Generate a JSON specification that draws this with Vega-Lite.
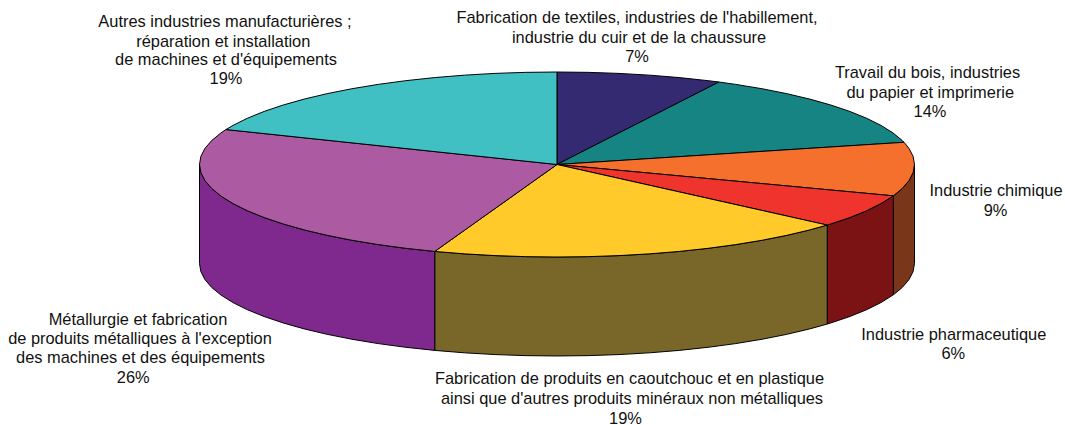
{"$schema":"https://vega.github.io/schema/vega-lite/v6.json","width":1065,"height":425,"padding":0,"autosize":"none","background":"white","config":{"view":{"stroke":null}},
"datasets":{
"top":[
{"slice":"textiles","i":0,"x":0,"y":0},{"slice":"textiles","i":1,"x":0,"y":1},{"slice":"textiles","i":2,"x":0.0872,"y":0.9962},{"slice":"textiles","i":3,"x":0.1736,"y":0.9848},{"slice":"textiles","i":4,"x":0.2588,"y":0.9659},{"slice":"textiles","i":5,"x":0.342,"y":0.9397},{"slice":"textiles","i":6,"x":0.4226,"y":0.9063},{"slice":"textiles","i":7,"x":0.453,"y":0.8915},{"slice":"textiles","i":8,"x":0,"y":0},
{"slice":"bois","i":0,"x":0,"y":0},{"slice":"bois","i":1,"x":0.453,"y":0.8915},{"slice":"bois","i":2,"x":0.5,"y":0.866},{"slice":"bois","i":3,"x":0.5736,"y":0.8192},{"slice":"bois","i":4,"x":0.6428,"y":0.766},{"slice":"bois","i":5,"x":0.7071,"y":0.7071},{"slice":"bois","i":6,"x":0.766,"y":0.6428},{"slice":"bois","i":7,"x":0.8192,"y":0.5736},{"slice":"bois","i":8,"x":0.866,"y":0.5},{"slice":"bois","i":9,"x":0.9063,"y":0.4226},{"slice":"bois","i":10,"x":0.9397,"y":0.342},{"slice":"bois","i":11,"x":0.9659,"y":0.2588},{"slice":"bois","i":12,"x":0.9707,"y":0.2402},{"slice":"bois","i":13,"x":0,"y":0},
{"slice":"chimique","i":0,"x":0,"y":0},{"slice":"chimique","i":1,"x":0.9707,"y":0.2402},{"slice":"chimique","i":2,"x":0.9848,"y":0.1736},{"slice":"chimique","i":3,"x":0.9962,"y":0.0872},{"slice":"chimique","i":4,"x":1,"y":0},{"slice":"chimique","i":5,"x":0.9962,"y":-0.0872},{"slice":"chimique","i":6,"x":0.9848,"y":-0.1736},{"slice":"chimique","i":7,"x":0.9659,"y":-0.2588},{"slice":"chimique","i":8,"x":0.9409,"y":-0.3387},{"slice":"chimique","i":9,"x":0,"y":0},
{"slice":"pharma","i":0,"x":0,"y":0},{"slice":"pharma","i":1,"x":0.9409,"y":-0.3387},{"slice":"pharma","i":2,"x":0.9063,"y":-0.4226},{"slice":"pharma","i":3,"x":0.866,"y":-0.5},{"slice":"pharma","i":4,"x":0.8192,"y":-0.5736},{"slice":"pharma","i":5,"x":0.766,"y":-0.6428},{"slice":"pharma","i":6,"x":0.7559,"y":-0.6547},{"slice":"pharma","i":7,"x":0,"y":0},
{"slice":"caoutchouc","i":0,"x":0,"y":0},{"slice":"caoutchouc","i":1,"x":0.7559,"y":-0.6547},{"slice":"caoutchouc","i":2,"x":0.7071,"y":-0.7071},{"slice":"caoutchouc","i":3,"x":0.6428,"y":-0.766},{"slice":"caoutchouc","i":4,"x":0.5736,"y":-0.8192},{"slice":"caoutchouc","i":5,"x":0.5,"y":-0.866},{"slice":"caoutchouc","i":6,"x":0.4226,"y":-0.9063},{"slice":"caoutchouc","i":7,"x":0.342,"y":-0.9397},{"slice":"caoutchouc","i":8,"x":0.2588,"y":-0.9659},{"slice":"caoutchouc","i":9,"x":0.1736,"y":-0.9848},{"slice":"caoutchouc","i":10,"x":0.0872,"y":-0.9962},{"slice":"caoutchouc","i":11,"x":0,"y":-1},{"slice":"caoutchouc","i":12,"x":-0.0872,"y":-0.9962},{"slice":"caoutchouc","i":13,"x":-0.1736,"y":-0.9848},{"slice":"caoutchouc","i":14,"x":-0.2588,"y":-0.9659},{"slice":"caoutchouc","i":15,"x":-0.342,"y":-0.9397},{"slice":"caoutchouc","i":16,"x":0,"y":0},
{"slice":"metallurgie","i":0,"x":0,"y":0},{"slice":"metallurgie","i":1,"x":-0.342,"y":-0.9397},{"slice":"metallurgie","i":2,"x":-0.4226,"y":-0.9063},{"slice":"metallurgie","i":3,"x":-0.5,"y":-0.866},{"slice":"metallurgie","i":4,"x":-0.5736,"y":-0.8192},{"slice":"metallurgie","i":5,"x":-0.6428,"y":-0.766},{"slice":"metallurgie","i":6,"x":-0.7071,"y":-0.7071},{"slice":"metallurgie","i":7,"x":-0.766,"y":-0.6428},{"slice":"metallurgie","i":8,"x":-0.8192,"y":-0.5736},{"slice":"metallurgie","i":9,"x":-0.866,"y":-0.5},{"slice":"metallurgie","i":10,"x":-0.9063,"y":-0.4226},{"slice":"metallurgie","i":11,"x":-0.9397,"y":-0.342},{"slice":"metallurgie","i":12,"x":-0.9659,"y":-0.2588},{"slice":"metallurgie","i":13,"x":-0.9848,"y":-0.1736},{"slice":"metallurgie","i":14,"x":-0.9962,"y":-0.0872},{"slice":"metallurgie","i":15,"x":-1,"y":0},{"slice":"metallurgie","i":16,"x":-0.9962,"y":0.0872},{"slice":"metallurgie","i":17,"x":-0.9848,"y":0.1736},{"slice":"metallurgie","i":18,"x":-0.9659,"y":0.2588},{"slice":"metallurgie","i":19,"x":-0.9397,"y":0.342},{"slice":"metallurgie","i":20,"x":-0.9259,"y":0.3778},{"slice":"metallurgie","i":21,"x":0,"y":0},
{"slice":"autres","i":0,"x":0,"y":0},{"slice":"autres","i":1,"x":-0.9259,"y":0.3778},{"slice":"autres","i":2,"x":-0.9063,"y":0.4226},{"slice":"autres","i":3,"x":-0.866,"y":0.5},{"slice":"autres","i":4,"x":-0.8192,"y":0.5736},{"slice":"autres","i":5,"x":-0.766,"y":0.6428},{"slice":"autres","i":6,"x":-0.7071,"y":0.7071},{"slice":"autres","i":7,"x":-0.6428,"y":0.766},{"slice":"autres","i":8,"x":-0.5736,"y":0.8192},{"slice":"autres","i":9,"x":-0.5,"y":0.866},{"slice":"autres","i":10,"x":-0.4226,"y":0.9063},{"slice":"autres","i":11,"x":-0.342,"y":0.9397},{"slice":"autres","i":12,"x":-0.2588,"y":0.9659},{"slice":"autres","i":13,"x":-0.1736,"y":0.9848},{"slice":"autres","i":14,"x":-0.0872,"y":0.9962},{"slice":"autres","i":15,"x":0,"y":1},{"slice":"autres","i":16,"x":0,"y":0}
],
"side":[
{"slice":"chimique","i":0,"x":1,"y":0},{"slice":"chimique","i":1,"x":0.9962,"y":-0.0872},{"slice":"chimique","i":2,"x":0.9848,"y":-0.1736},{"slice":"chimique","i":3,"x":0.9659,"y":-0.2588},{"slice":"chimique","i":4,"x":0.9409,"y":-0.3387},{"slice":"chimique","i":5,"x":0.9409,"y":-1.4087},{"slice":"chimique","i":6,"x":0.9659,"y":-1.3288},{"slice":"chimique","i":7,"x":0.9848,"y":-1.2436},{"slice":"chimique","i":8,"x":0.9962,"y":-1.1572},{"slice":"chimique","i":9,"x":1,"y":-1.07},{"slice":"chimique","i":10,"x":1,"y":0},
{"slice":"pharma","i":0,"x":0.9409,"y":-0.3387},{"slice":"pharma","i":1,"x":0.9063,"y":-0.4226},{"slice":"pharma","i":2,"x":0.866,"y":-0.5},{"slice":"pharma","i":3,"x":0.8192,"y":-0.5736},{"slice":"pharma","i":4,"x":0.766,"y":-0.6428},{"slice":"pharma","i":5,"x":0.7559,"y":-0.6547},{"slice":"pharma","i":6,"x":0.7559,"y":-1.7247},{"slice":"pharma","i":7,"x":0.766,"y":-1.7128},{"slice":"pharma","i":8,"x":0.8192,"y":-1.6436},{"slice":"pharma","i":9,"x":0.866,"y":-1.57},{"slice":"pharma","i":10,"x":0.9063,"y":-1.4926},{"slice":"pharma","i":11,"x":0.9409,"y":-1.4087},{"slice":"pharma","i":12,"x":0.9409,"y":-0.3387},
{"slice":"caoutchouc","i":0,"x":0.7559,"y":-0.6547},{"slice":"caoutchouc","i":1,"x":0.7071,"y":-0.7071},{"slice":"caoutchouc","i":2,"x":0.6428,"y":-0.766},{"slice":"caoutchouc","i":3,"x":0.5736,"y":-0.8192},{"slice":"caoutchouc","i":4,"x":0.5,"y":-0.866},{"slice":"caoutchouc","i":5,"x":0.4226,"y":-0.9063},{"slice":"caoutchouc","i":6,"x":0.342,"y":-0.9397},{"slice":"caoutchouc","i":7,"x":0.2588,"y":-0.9659},{"slice":"caoutchouc","i":8,"x":0.1736,"y":-0.9848},{"slice":"caoutchouc","i":9,"x":0.0872,"y":-0.9962},{"slice":"caoutchouc","i":10,"x":0,"y":-1},{"slice":"caoutchouc","i":11,"x":-0.0872,"y":-0.9962},{"slice":"caoutchouc","i":12,"x":-0.1736,"y":-0.9848},{"slice":"caoutchouc","i":13,"x":-0.2588,"y":-0.9659},{"slice":"caoutchouc","i":14,"x":-0.342,"y":-0.9397},{"slice":"caoutchouc","i":15,"x":-0.342,"y":-2.0097},{"slice":"caoutchouc","i":16,"x":-0.2588,"y":-2.0359},{"slice":"caoutchouc","i":17,"x":-0.1736,"y":-2.0548},{"slice":"caoutchouc","i":18,"x":-0.0872,"y":-2.0662},{"slice":"caoutchouc","i":19,"x":0,"y":-2.07},{"slice":"caoutchouc","i":20,"x":0.0872,"y":-2.0662},{"slice":"caoutchouc","i":21,"x":0.1736,"y":-2.0548},{"slice":"caoutchouc","i":22,"x":0.2588,"y":-2.0359},{"slice":"caoutchouc","i":23,"x":0.342,"y":-2.0097},{"slice":"caoutchouc","i":24,"x":0.4226,"y":-1.9763},{"slice":"caoutchouc","i":25,"x":0.5,"y":-1.936},{"slice":"caoutchouc","i":26,"x":0.5736,"y":-1.8892},{"slice":"caoutchouc","i":27,"x":0.6428,"y":-1.836},{"slice":"caoutchouc","i":28,"x":0.7071,"y":-1.7771},{"slice":"caoutchouc","i":29,"x":0.7559,"y":-1.7247},{"slice":"caoutchouc","i":30,"x":0.7559,"y":-0.6547},
{"slice":"metallurgie","i":0,"x":-0.342,"y":-0.9397},{"slice":"metallurgie","i":1,"x":-0.4226,"y":-0.9063},{"slice":"metallurgie","i":2,"x":-0.5,"y":-0.866},{"slice":"metallurgie","i":3,"x":-0.5736,"y":-0.8192},{"slice":"metallurgie","i":4,"x":-0.6428,"y":-0.766},{"slice":"metallurgie","i":5,"x":-0.7071,"y":-0.7071},{"slice":"metallurgie","i":6,"x":-0.766,"y":-0.6428},{"slice":"metallurgie","i":7,"x":-0.8192,"y":-0.5736},{"slice":"metallurgie","i":8,"x":-0.866,"y":-0.5},{"slice":"metallurgie","i":9,"x":-0.9063,"y":-0.4226},{"slice":"metallurgie","i":10,"x":-0.9397,"y":-0.342},{"slice":"metallurgie","i":11,"x":-0.9659,"y":-0.2588},{"slice":"metallurgie","i":12,"x":-0.9848,"y":-0.1736},{"slice":"metallurgie","i":13,"x":-0.9962,"y":-0.0872},{"slice":"metallurgie","i":14,"x":-1,"y":0},{"slice":"metallurgie","i":15,"x":-1,"y":-1.07},{"slice":"metallurgie","i":16,"x":-0.9962,"y":-1.1572},{"slice":"metallurgie","i":17,"x":-0.9848,"y":-1.2436},{"slice":"metallurgie","i":18,"x":-0.9659,"y":-1.3288},{"slice":"metallurgie","i":19,"x":-0.9397,"y":-1.412},{"slice":"metallurgie","i":20,"x":-0.9063,"y":-1.4926},{"slice":"metallurgie","i":21,"x":-0.866,"y":-1.57},{"slice":"metallurgie","i":22,"x":-0.8192,"y":-1.6436},{"slice":"metallurgie","i":23,"x":-0.766,"y":-1.7128},{"slice":"metallurgie","i":24,"x":-0.7071,"y":-1.7771},{"slice":"metallurgie","i":25,"x":-0.6428,"y":-1.836},{"slice":"metallurgie","i":26,"x":-0.5736,"y":-1.8892},{"slice":"metallurgie","i":27,"x":-0.5,"y":-1.936},{"slice":"metallurgie","i":28,"x":-0.4226,"y":-1.9763},{"slice":"metallurgie","i":29,"x":-0.342,"y":-2.0097},{"slice":"metallurgie","i":30,"x":-0.342,"y":-0.9397}
],
"labels":[
{"label":"Autres industries manufacturières ;","x":-0.9287,"y":1.4897},
{"label":"réparation et installation","x":-0.9334,"y":1.2735},
{"label":"de machines et d'équipements","x":-0.9259,"y":1.0757},
{"label":"19%","x":-0.9259,"y":0.867},
{"label":"Fabrication de textiles, industries de l'habillement,","x":0.2238,"y":1.533},
{"label":"industrie du cuir et de la chaussure","x":0.2294,"y":1.3168},
{"label":"7%","x":0.2238,"y":1.1081},
{"label":"Travail du bois, industries","x":1.0364,"y":0.9384},
{"label":"du papier et imprimerie","x":1.0442,"y":0.7222},
{"label":"14%","x":1.0434,"y":0.5168},
{"label":"Industrie chimique","x":1.228,"y":-0.3405},
{"label":"9%","x":1.2266,"y":-0.5535},
{"label":"Industrie pharmaceutique","x":1.1099,"y":-1.8973},
{"label":"6%","x":1.1085,"y":-2.1059},
{"label":"Fabrication de produits en caoutchouc et en plastique","x":0.2028,"y":-2.373},
{"label":"ainsi que d'autres produits minéraux non métalliques","x":0.2098,"y":-2.5892},
{"label":"19%","x":0.1916,"y":-2.8},
{"label":"Métallurgie et fabrication","x":-1.172,"y":-1.7351},
{"label":"de produits métalliques à l'exception","x":-1.1664,"y":-1.9438},
{"label":"des machines et des équipements","x":-1.165,"y":-2.1492},
{"label":"26%","x":-1.1852,"y":-2.3654}
]},
"layer":[
{"data":{"name":"side"},"mark":{"type":"line","filled":true,"interpolate":"linear","strokeWidth":1,"strokeJoin":"round","clip":false},
"encoding":{"x":{"field":"x","type":"quantitative","axis":null,"scale":{"domain":[-1.558,1.421],"nice":false,"zero":false}},"y":{"field":"y","type":"quantitative","axis":null,"scale":{"domain":[-2.8162,1.7784],"nice":false,"zero":false}},"order":{"field":"i","type":"quantitative"},"fill":{"field":"slice","type":"nominal","legend":null,"scale":{"domain":["chimique","pharma","caoutchouc","metallurgie"],"range":["#7A3618","#7B1214","#786729","#7F298E"]}},"stroke":{"value":"#000000"}}},
{"data":{"name":"top"},"mark":{"type":"line","filled":true,"interpolate":"linear","strokeWidth":1,"strokeJoin":"round","clip":false},
"encoding":{"x":{"field":"x","type":"quantitative","axis":null},"y":{"field":"y","type":"quantitative","axis":null},"order":{"field":"i","type":"quantitative"},"fill":{"field":"slice","type":"nominal","legend":null,"scale":{"domain":["textiles","bois","chimique","pharma","caoutchouc","metallurgie","autres"],"range":["#332A71","#178484","#F56F2D","#EE342D","#FFCA2A","#AC5AA1","#41C0C4"]}},"stroke":{"value":"#000000"}}},
{"data":{"name":"labels"},"mark":{"type":"text","font":"Liberation Sans","fontSize":16.4,"align":"center","baseline":"alphabetic","color":"#111111"},
"encoding":{"x":{"field":"x","type":"quantitative","axis":null},"y":{"field":"y","type":"quantitative","axis":null},"text":{"field":"label","type":"nominal"}}}
],
"resolve":{"scale":{"fill":"independent"}}}
